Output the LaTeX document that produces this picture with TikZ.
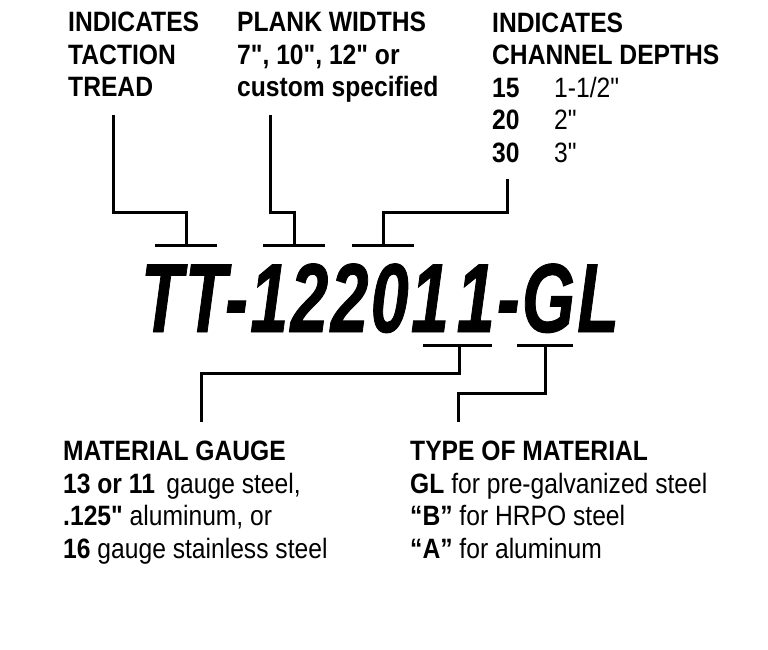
\documentclass[tikz,border=0pt]{standalone}
\usepackage{fontspec}
\setmainfont{Liberation Sans}[FakeStretch = 0.88, Ligatures = TeXOff]
\tikzset{
  note/.style = {anchor = base west, align = left, inner sep = 0pt,
    font = \fontsize{28}{32.5}\selectfont},
  lead/.style = {line width = 3pt},
  bracket/.style = {line width = 3pt}
}
\begin{document}
\begin{tikzpicture}[x = 1pt, y = -1pt]
  \useasboundingbox (0,0) rectangle (768,650);
  % notes above the part number (placed by their last baseline)
  \node [note] (tacNote) at (68,97) {\textbf{INDICATES}\\\textbf{TACTION}\\\textbf{TREAD}};
  \node [note] (widNote) at (237,97) {\textbf{PLANK WIDTHS}\\\textbf{7", 10", 12" or}\\\textbf{custom specified}};
  \node [note] (depNote) at (492,162) {\textbf{INDICATES}\\\textbf{CHANNEL DEPTHS}\\
    \makebox[62pt][l]{\textbf{15}}1-1/2"\\\makebox[62pt][l]{\textbf{20}}2"\\\makebox[62pt][l]{\textbf{30}}3"};
  % part number
  \node [anchor = base, inner sep = 0pt, xscale = .79,
    font = \fontsize{98}{98}\selectfont\bfseries\itshape\addfontfeature{FakeBold = 1, LetterSpace = 3}] (partNo) at (380,332) {TT-12201\kern10pt 1-GL};
  % notes below
  \node [note] (gauNote) at (63,558) {\textbf{MATERIAL GAUGE}\\\textbf{13 or 11}\, gauge steel,\\
    \textbf{.125"} aluminum, or\\\textbf{16} gauge stainless steel};
  \node [note] (typNote) at (410,558) {\textbf{TYPE OF MATERIAL}\\\textbf{GL} for pre-galvanized steel\\
    \textbf{“B”} for HRPO steel\\\textbf{“A”} for aluminum};
  % bracket centres and lead ends
  \coordinate (tacBar) at (186,245);
  \coordinate (widBar) at (294,245);
  \coordinate (depBar) at (383,245);
  \coordinate (gauBar) at (459,345);
  \coordinate (typBar) at (545,345);
  \coordinate (tacEnd) at (113,115);
  \coordinate (widEnd) at (270,115);
  \coordinate (depEnd) at (507,179);
  \coordinate (gauEnd) at (201,422);
  \coordinate (typEnd) at (458,422);
  \draw [bracket] (tacBar) ++(-31,0) --++ (62,0);
  \draw [bracket] (widBar) ++(-31,0) --++ (62,0);
  \draw [bracket] (depBar) ++(-31,0) --++ (62,0);
  \draw [bracket] (gauBar) ++(-36,0) --++ (69,0);
  \draw [bracket] (typBar) ++(-28,0) --++ (56,0);
  \draw [lead] (tacEnd) --++ (0,97) -| (tacBar);
  \draw [lead] (widEnd) --++ (0,97) -| (widBar);
  \draw [lead] (depEnd) --++ (0,33) -| (depBar);
  \draw [lead] (gauBar) --++ (0,28) -| (gauEnd);
  \draw [lead] (typBar) --++ (0,48) -| (typEnd);
\end{tikzpicture}
\end{document}
